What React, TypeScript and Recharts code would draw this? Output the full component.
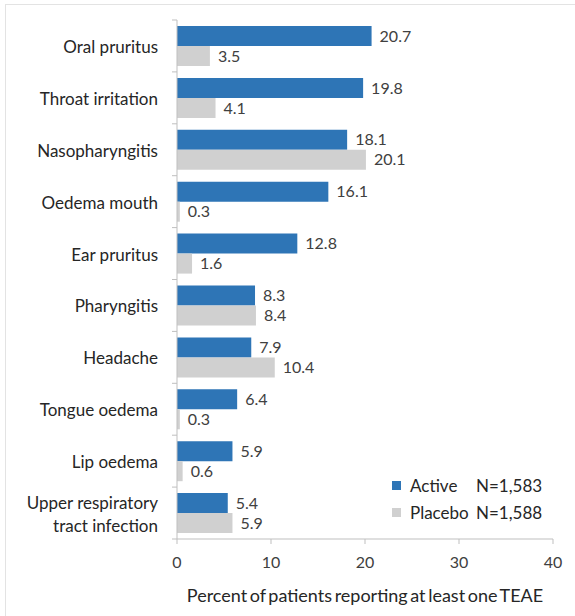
import React from "react"
import { BarChart, Bar, XAxis, YAxis, LabelList } from "recharts"

const categories = [
  "Oral pruritus",
  "Throat irritation",
  "Nasopharyngitis",
  "Oedema mouth",
  "Ear pruritus",
  "Pharyngitis",
  "Headache",
  "Tongue oedema",
  "Lip oedema",
  "Upper respiratory\ntract infection",
]
const activeValues = [20.7, 19.8, 18.1, 16.1, 12.8, 8.3, 7.9, 6.4, 5.9, 5.4]
const placeboValues = [3.5, 4.1, 20.1, 0.3, 1.6, 8.4, 10.4, 0.3, 0.6, 5.9]
const xTicks = [0, 10, 20, 30, 40]
const seriesNames = ["Active", "Placebo"]
const seriesN = ["N=1,583", "N=1,588"]

const BLUE = "#2E75B6"
const GREY = "#D0D0D0"
const FONT = "Lato, 'Open Sans', sans-serif"

const data = categories.map((name, i) => ({
  name,
  active: activeValues[i],
  placebo: placeboValues[i],
}))

function CategoryTick(props: any) {
  const { x, y, payload, index, visibleTicksCount } = props
  const half = payload.offset || 26
  const lines = String(payload.value).split("\n")
  const axisX = x + 8
  return (
    <g>
      <line x1={axisX - 5} x2={axisX} y1={y - half} y2={y - half} stroke="#bfbfbf" />
      {index === visibleTicksCount - 1 && (
        <line x1={axisX - 5} x2={axisX} y1={y + half} y2={y + half} stroke="#bfbfbf" />
      )}
      <text
        x={x - 11}
        y={y - ((lines.length - 1) * 23) / 2}
        textAnchor="end"
        dominantBaseline="central"
        fill="#262626"
        fontSize={17}
        fontFamily={FONT}
      >
        {lines.map((l, i) => (
          <tspan key={i} x={x - 11} dy={i === 0 ? 0 : 23}>
            {l}
          </tspan>
        ))}
      </text>
    </g>
  )
}

function LegendBox() {
  const colors = [BLUE, GREY]
  return (
    <div
      style={{
        position: "absolute",
        left: 392,
        top: 472,
        fontFamily: FONT,
        fontSize: 17,
        color: "#262626",
      }}
    >
      {seriesNames.map((s, i) => (
        <div key={s} style={{ display: "flex", alignItems: "center", height: 27 }}>
          <span
            style={{
              display: "inline-block",
              width: 9,
              height: 9,
              background: colors[i],
              marginRight: 9,
            }}
          />
          <span style={{ width: 66, display: "inline-block" }}>{s}</span>
          <span>{seriesN[i]}</span>
        </div>
      ))}
    </div>
  )
}

export default function App() {
  return (
    <div
      style={{
        position: "absolute",
        left: 0,
        top: 0,
        width: 575,
        height: 616,
        background: "#fff",
        overflow: "hidden",
      }}
    >
      <div
        style={{
          position: "absolute",
          left: 5,
          top: 4,
          width: 600,
          height: 640,
          border: "1px solid #e3e3e3",
        }}
      />
      <BarChart
        layout="vertical"
        width={575}
        height={616}
        data={data}
        margin={{ top: 20, right: 22, bottom: 17, left: 7 }}
        barCategoryGap={6}
        barGap={0}
      >
        <XAxis
          type="number"
          domain={[0, 40]}
          ticks={xTicks}
          height={60}
          axisLine={{ stroke: "#bfbfbf" }}
          tickLine={{ stroke: "#bfbfbf" }}
          tickSize={5}
          tickMargin={13}
          tick={{ fill: "#404040", fontSize: 16, fontFamily: FONT }}
          label={{
            value: "Percent of patients reporting at least one TEAE",
            position: "insideBottom",
            offset: -3,
            fill: "#262626",
            fontSize: 18,
            fontFamily: FONT,
            style: { wordSpacing: -2 },
          }}
        />
        <YAxis
          type="category"
          dataKey="name"
          width={170}
          axisLine={{ stroke: "#bfbfbf" }}
          tickLine={false}
          tick={<CategoryTick />}
          interval={0}
        />
        <Bar dataKey="active" name="Active" fill={BLUE} isAnimationActive={false}>
          <LabelList
            dataKey="active"
            position="right"
            offset={8}
            fill="#404040"
            fontSize={16}
            fontFamily={FONT}
          />
        </Bar>
        <Bar dataKey="placebo" name="Placebo" fill={GREY} isAnimationActive={false}>
          <LabelList
            dataKey="placebo"
            position="right"
            offset={8}
            fill="#404040"
            fontSize={16}
            fontFamily={FONT}
          />
        </Bar>
      </BarChart>
      <LegendBox />
    </div>
  )
}
